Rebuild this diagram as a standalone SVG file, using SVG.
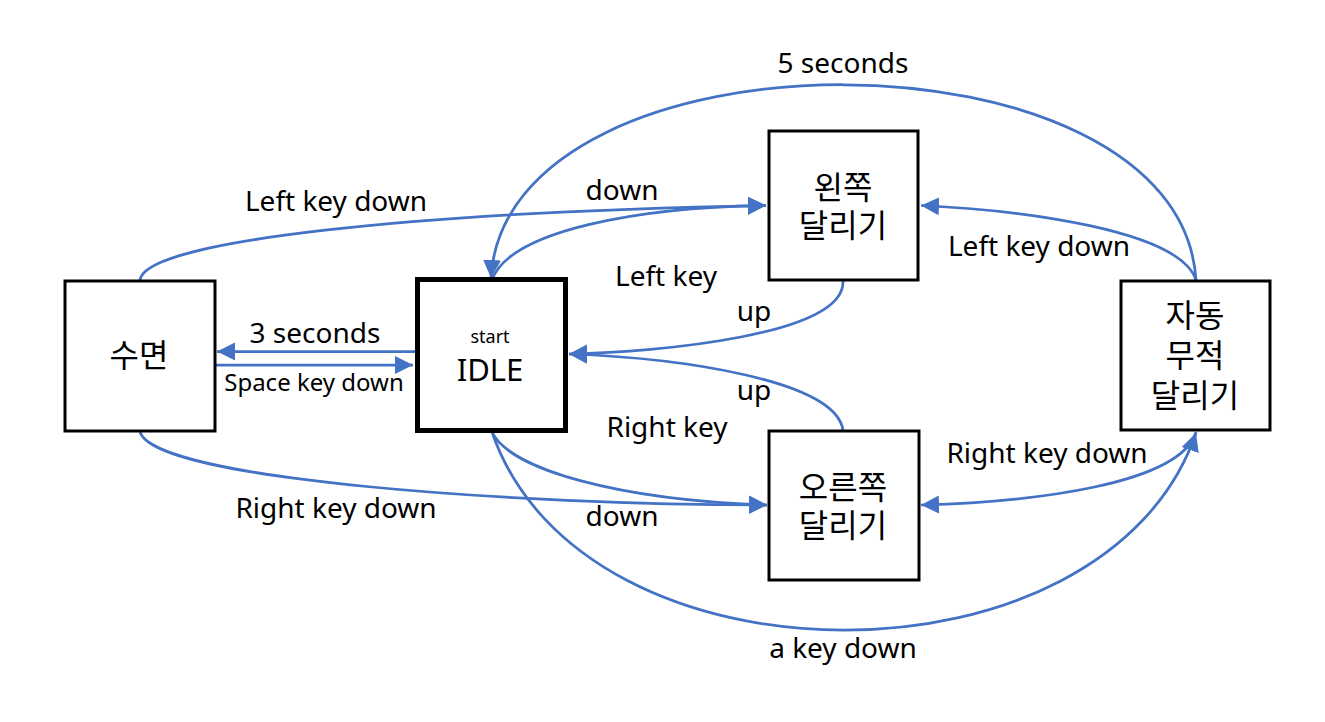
<svg xmlns="http://www.w3.org/2000/svg" width="1325" height="722" viewBox="0 0 1325 722">
<style>
.box{fill:#fff;stroke:#000;stroke-width:3}
.idle{fill:#fff;stroke:#000;stroke-width:5}
.ko{font-family:"Noto Sans CJK KR","Noto Sans",sans-serif;font-size:32px;fill:#000;text-anchor:middle}
.lat{font-family:"Noto Sans","Noto Sans CJK KR",sans-serif;fill:#000;text-anchor:middle}
.lbl{font-family:"Noto Sans","Noto Sans CJK KR",sans-serif;font-size:28px;fill:#000;text-anchor:middle}
.edge{fill:none;stroke:#4472C4;stroke-width:2.75;marker-end:url(#arr)}
</style>
<defs>
<marker id="arr" markerUnits="userSpaceOnUse" markerWidth="20" markerHeight="20" refX="18" refY="9" orient="auto">
<path d="M0,0 L18,9 L0,18 z" fill="#4472C4"/>
</marker>
</defs>
<rect width="1325" height="722" fill="#fff"/>
<g id="connectors">
<path class="edge" d="M415,351.5 L217,351.5"/>
<path class="edge" d="M215,365 L413,365"/>
<path class="edge" d="M140,280 C145,240 420,212 766,205.5"/>
<path class="edge" d="M492,280 C510,230 640,207 766,205.5"/>
<path class="edge" d="M1196,280 C1180,20 506,20 491,278"/>
<path class="edge" d="M1196,280 C1180,230 1020,210 921,205.5"/>
<path class="edge" d="M843,281 C845,335 660,352 569,354"/>
<path class="edge" d="M843,430 C835,380 680,358 569,354"/>
<path class="edge" d="M492,432 C510,470 620,500 767,505"/>
<path class="edge" d="M140,432 C155,480 520,505 767,505"/>
<path class="edge" d="M492,432 C582,696 1106,696 1196,433"/>
<path class="edge" d="M1196,432 C1180,485 1030,502 921,505"/>
</g>
<g id="labels">
<text class="lbl" x="843" y="73">5 seconds</text>
<text class="lbl" x="336" y="211">Left key down</text>
<text class="lbl" x="622" y="200">down</text>
<text class="lbl" x="1039" y="256">Left key down</text>
<text class="lbl" x="666" y="286">Left key</text>
<text class="lbl" x="754" y="321">up</text>
<text class="lbl" x="315" y="343">3 seconds</text>
<text class="lbl" x="314" y="391" style="font-size:24px">Space key down</text>
<text class="lbl" x="754" y="400">up</text>
<text class="lbl" x="667" y="437">Right key</text>
<text class="lbl" x="1047" y="463">Right key down</text>
<text class="lbl" x="336" y="518">Right key down</text>
<text class="lbl" x="622" y="526">down</text>
<text class="lbl" x="843" y="658">a key down</text>
</g>
<g id="sleep">
<rect class="box" x="65" y="281" width="150" height="150"/>
<text class="ko" x="139" y="367">수면</text>
</g>
<g id="idle">
<rect class="idle" x="417.5" y="279.5" width="148" height="151"/>
<text class="lat" x="490" y="343" style="font-size:18px">start</text>
<text class="lat" x="490" y="381" style="font-size:31px">IDLE</text>
</g>
<g id="left-run">
<rect class="box" x="769" y="131" width="149" height="149"/>
<text class="ko" x="843" y="199">왼쪽</text>
<text class="ko" x="843" y="237">달리기</text>
</g>
<g id="right-run">
<rect class="box" x="769" y="431" width="150" height="149"/>
<text class="ko" x="843" y="499">오른쪽</text>
<text class="ko" x="843" y="537">달리기</text>
</g>
<g id="auto-run">
<rect class="box" x="1121" y="281" width="149" height="149"/>
<text class="ko" x="1195" y="327">자동</text>
<text class="ko" x="1195" y="367">무적</text>
<text class="ko" x="1195" y="407">달리기</text>
</g>
</svg>
